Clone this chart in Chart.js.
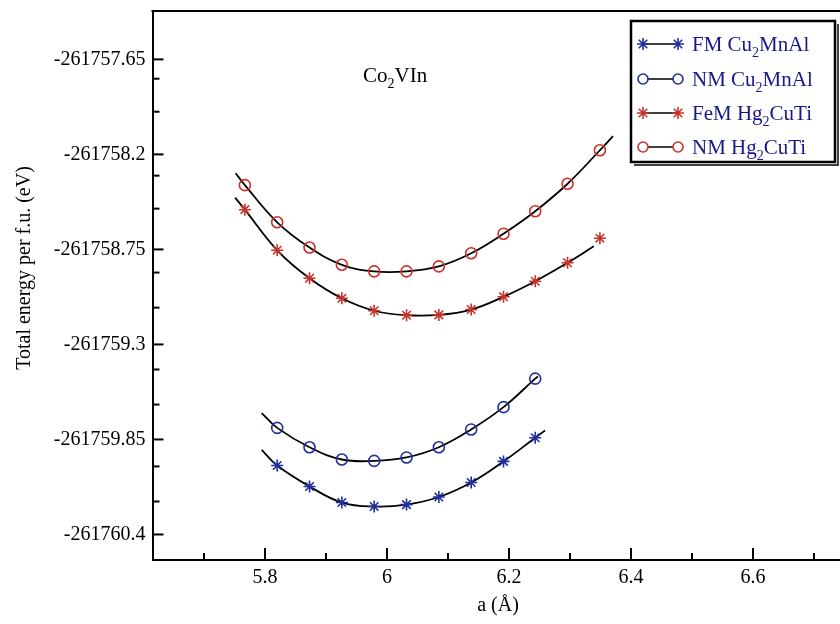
<!DOCTYPE html>
<html><head><meta charset="utf-8">
<script src="https://cdn.jsdelivr.net/npm/chart.js@4.4.1/dist/chart.umd.min.js"></script>
<style>html,body{margin:0;padding:0;background:#fff;overflow:hidden}</style>
</head><body>
<canvas id="c" width="840" height="624"></canvas>
<script>
// ---- data ----
const xHg = [5.767, 5.820, 5.873, 5.926, 5.979, 6.032, 6.085, 6.138, 6.191, 6.243, 6.296, 6.349];
const xCu = [5.820, 5.873, 5.926, 5.979, 6.032, 6.085, 6.138, 6.191, 6.243];
const eNMHg  = [-261758.378, -261758.593, -261758.739, -261758.839, -261758.877, -261758.877, -261758.848, -261758.772, -261758.659, -261758.529, -261758.370, -261758.176];
const eFeMHg = [-261758.520, -261758.755, -261758.917, -261759.033, -261759.105, -261759.131, -261759.129, -261759.098, -261759.024, -261758.934, -261758.827, -261758.685];
const eNMCu  = [-261759.783, -261759.895, -261759.966, -261759.974, -261759.954, -261759.895, -261759.792, -261759.663, -261759.498];
const eFMCu  = [-261760.001, -261760.122, -261760.215, -261760.238, -261760.227, -261760.183, -261760.099, -261759.977, -261759.840];
// fitted-curve end points (x, E)
const fitNMHgEnds  = [[5.752, -261758.309], [6.3705, -261758.094]];
const fitFeMHgEnds = [[5.751, -261758.450], [6.339, -261758.732]];
const fitNMCuEnds  = [[5.7946, -261759.697], [6.2475, -261759.486]];
const fitFMCuEnds  = [[5.7946, -261759.910], [6.259, -261759.798]];
// ticks
const xTickValues = [5.8, 6, 6.2, 6.4, 6.6];
const xTickLabels = ['5.8', '6', '6.2', '6.4', '6.6'];
const xMinorTicks = [5.7, 5.9, 6.1, 6.3, 6.5, 6.7];
const yTickValues = [-261757.65, -261758.2, -261758.75, -261759.3, -261759.85, -261760.4];
const yTickLabels = ['-261757.65', '-261758.2', '-261758.75', '-261759.3', '-261759.85', '-261760.4'];
const yMinorTicks = [-261757.762, -261757.953, -261758.323, -261758.514, -261758.884, -261759.087, -261759.445, -261759.648, -261760.006, -261760.209];
// legend / labels
const seriesNames = [['FM Cu', '2', 'MnAl'], ['NM Cu', '2', 'MnAl'], ['FeM Hg', '2', 'CuTi'], ['NM Hg', '2', 'CuTi']];
const compoundLabel = ['Co', '2', 'VIn'];
const xTitle = 'a (Å)';
const yTitle = 'Total energy per f.u. (eV)';

const BLUE = '#1f2f9e', RED = '#c8322c', TXT = '#17178a';
const FONT = '"Liberation Serif", "DejaVu Serif", serif';

function pts(xs, ys) { return xs.map((x, i) => ({x: x, y: ys[i]})); }
function fit(xs, ys, ends, keepLast) {
  const p = pts(xs, ys);
  const body = keepLast === false ? p.slice(0, p.length - 1) : p;
  return [{x: ends[0][0], y: ends[0][1]}].concat(body, [{x: ends[1][0], y: ends[1][1]}]);
}
function lineDs(data) {
  return {data: data, showLine: true, borderColor: '#000', borderWidth: 1.8, pointRadius: 0, tension: 0.4, fill: false, order: 2};
}
function markDs(data, style, color) {
  return {data: data, showLine: false, pointStyle: style, pointRadius: style === 'star' ? 6 : 5.5,
    borderColor: color, backgroundColor: 'rgba(0,0,0,0)', pointBorderWidth: 1.6, order: 1};
}
function noPad(s) { s.paddingTop = 0; s.paddingBottom = 0; s.paddingLeft = 0; s.paddingRight = 0; }

const decor = {
  id: 'decor',
  afterDraw(chart) {
    const ctx = chart.ctx, a = chart.chartArea, xs = chart.scales.x, ys = chart.scales.y;
    ctx.save();
    ctx.strokeStyle = '#000'; ctx.lineWidth = 2;
    ctx.beginPath(); ctx.moveTo(a.left - 1, a.top); ctx.lineTo(a.right, a.top); ctx.stroke();
    xTickValues.forEach(v => { const p = xs.getPixelForValue(v); ctx.beginPath(); ctx.moveTo(p, a.bottom); ctx.lineTo(p, a.bottom - 12); ctx.stroke(); });
    xMinorTicks.forEach(v => { const p = xs.getPixelForValue(v); ctx.beginPath(); ctx.moveTo(p, a.bottom); ctx.lineTo(p, a.bottom - 7); ctx.stroke(); });
    yTickValues.forEach(v => { const p = ys.getPixelForValue(v); ctx.beginPath(); ctx.moveTo(a.left, p); ctx.lineTo(a.left + 11, p); ctx.stroke(); });
    yMinorTicks.forEach(v => { const p = ys.getPixelForValue(v); ctx.beginPath(); ctx.moveTo(a.left, p); ctx.lineTo(a.left + 7, p); ctx.stroke(); });

    // axis titles
    ctx.fillStyle = '#000';
    ctx.font = '20px ' + FONT;
    ctx.textAlign = 'center'; ctx.textBaseline = 'middle';
    ctx.fillText(xTitle, 498, 606);
    ctx.save(); ctx.translate(25, 268); ctx.rotate(-Math.PI / 2); ctx.fillText(yTitle, 0, 0); ctx.restore();

    function subText(parts, x, y, size, color) {
      ctx.fillStyle = color; ctx.textAlign = 'left'; ctx.textBaseline = 'alphabetic';
      ctx.font = size + 'px ' + FONT; ctx.fillText(parts[0], x, y); x += ctx.measureText(parts[0]).width;
      ctx.font = Math.round(size * 0.68) + 'px ' + FONT; ctx.fillText(parts[1], x, y + size * 0.3); x += ctx.measureText(parts[1]).width;
      ctx.font = size + 'px ' + FONT; ctx.fillText(parts[2], x, y);
    }
    subText(compoundLabel, 363, 82, 21, '#000');

    // legend box
    ctx.fillStyle = '#fff'; ctx.fillRect(631, 21, 204, 141);
    ctx.strokeStyle = '#000'; ctx.lineWidth = 2.5;
    ctx.strokeRect(631, 21, 204, 141);
    ctx.lineWidth = 1.5;
    ctx.beginPath(); ctx.moveTo(634, 165); ctx.lineTo(838, 165); ctx.lineTo(838, 24); ctx.stroke();
    const rows = [44, 79, 113, 147];
    const styles = [['star', BLUE], ['circle', BLUE], ['star', RED], ['circle', RED]];
    rows.forEach((ry, i) => {
      ctx.strokeStyle = '#000'; ctx.lineWidth = 1.5;
      ctx.beginPath(); ctx.moveTo(643, ry); ctx.lineTo(678, ry); ctx.stroke();
      [643, 678].forEach(mx => {
        ctx.strokeStyle = styles[i][1]; ctx.lineWidth = 1.6;
        ctx.fillStyle = '#fff';
        ctx.beginPath();
        if (styles[i][0] === 'circle') { ctx.arc(mx, ry, 5, 0, Math.PI * 2); ctx.fill(); ctx.stroke(); }
        else {
          for (let k = 0; k < 4; k++) { const ang = k * Math.PI / 4; ctx.moveTo(mx - 6 * Math.cos(ang), ry - 6 * Math.sin(ang)); ctx.lineTo(mx + 6 * Math.cos(ang), ry + 6 * Math.sin(ang)); }
          ctx.stroke();
        }
      });
      subText(seriesNames[i], 692, ry + 7, 21, TXT);
    });
    ctx.restore();
  }
};

new Chart(document.getElementById('c'), {
  type: 'scatter',
  data: {
    datasets: [
      markDs(pts(xCu, eFMCu), 'star', BLUE),
      markDs(pts(xCu, eNMCu), 'circle', BLUE),
      markDs(pts(xHg, eFeMHg), 'star', RED),
      markDs(pts(xHg, eNMHg), 'circle', RED),
      lineDs(fit(xCu, eFMCu, fitFMCuEnds)),
      lineDs(fit(xCu, eNMCu, fitNMCuEnds)),
      lineDs(fit(xHg, eFeMHg, fitFeMHgEnds, false)),
      lineDs(fit(xHg, eNMHg, fitNMHgEnds))
    ]
  },
  options: {
    responsive: false, animation: false,
    layout: {autoPadding: false, padding: {top: 11, right: 0, left: 0, bottom: 0}},
    plugins: {legend: {display: false}, tooltip: {enabled: false}},
    scales: {
      x: {
        type: 'linear', min: 5.6156, max: 6.7426,
        afterBuildTicks: s => { s.ticks = xTickValues.map(v => ({value: v})); },
        afterFit: s => { s.height = 64; noPad(s); },
        ticks: {callback: v => xTickLabels[xTickValues.indexOf(v)] ?? '', font: {family: FONT, size: 20}, color: '#000', padding: 6, maxRotation: 0, autoSkip: false},
        grid: {display: false, drawTicks: false},
        border: {display: true, color: '#000', width: 2}
      },
      y: {
        type: 'linear', min: -261760.5477, max: -261757.370,
        afterBuildTicks: s => { s.ticks = yTickValues.map(v => ({value: v})); },
        afterFit: s => { s.width = 152.5; noPad(s); },
        ticks: {callback: v => yTickLabels[yTickValues.indexOf(v)] ?? '', font: {family: FONT, size: 20}, color: '#000', padding: 7, autoSkip: false},
        grid: {display: false, drawTicks: false},
        border: {display: true, color: '#000', width: 2}
      }
    }
  },
  plugins: [decor]
});
</script>
</body></html>
